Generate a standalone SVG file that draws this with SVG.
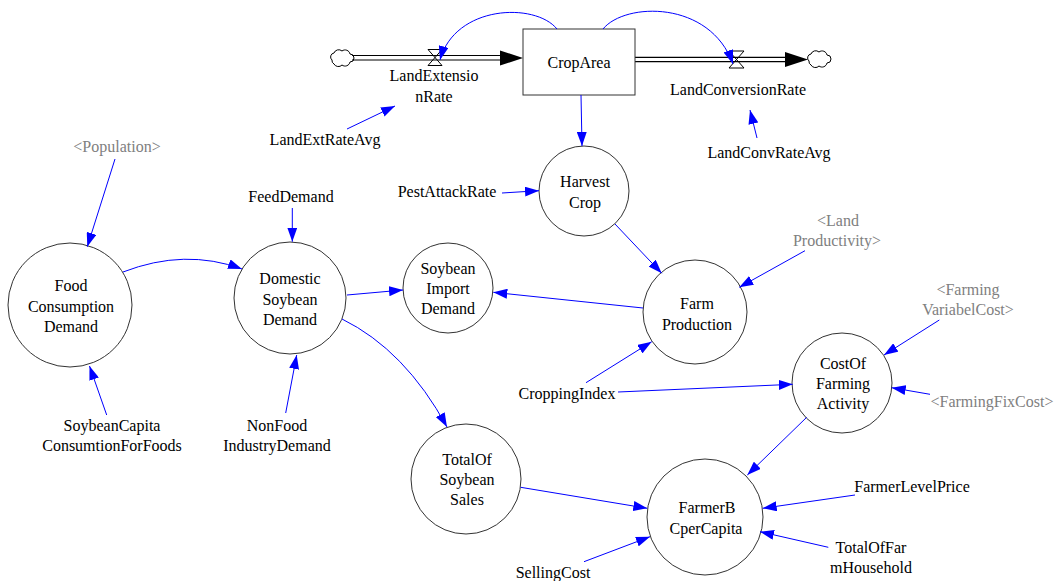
<svg xmlns="http://www.w3.org/2000/svg" width="1057" height="581" viewBox="0 0 1057 581">
<style>
text{font-family:"Liberation Serif","Times New Roman",serif;font-size:16px;fill:#000;text-anchor:middle}
text.sh{fill:#808080}
.node{fill:#fff;stroke:#333;stroke-width:1}
.link{fill:none;stroke:#0000ff;stroke-width:1;marker-end:url(#ah)}
.pipe{stroke:#000;stroke-width:1.2;fill:none}
.valve{fill:none;stroke:#000;stroke-width:1}
.cloud{fill:#fff;stroke:#000;stroke-width:1}
</style>
<defs>
<marker id="ah" markerWidth="14" markerHeight="10" refX="14" refY="5" orient="auto" markerUnits="userSpaceOnUse"><path d="M0,0 L14,5 L0,10 z" fill="#0000ff"/></marker>
</defs>
<rect width="1057" height="581" fill="#fff"/>
<g id="flows">
<path class="cloud" d="M332,60 a4,4 0 0,1 2,-7 a5,5 0 0,1 8,-2 a5,5 0 0,1 8,3 a4,4 0 0,1 0,8 a5,5 0 0,1 -8,3 a5,5 0 0,1 -8,-1 a4,4 0 0,1 -2,-4z"/>
<line class="pipe" x1="352" y1="55.5" x2="502" y2="55.5"/>
<line class="pipe" x1="352" y1="60" x2="502" y2="60"/>
<polygon points="500,50.5 523,58 500,65.5" fill="#000"/>
<path class="cloud" d="M809,61 a4,4 0 0,1 2,-7 a5,5 0 0,1 8,-2 a5,5 0 0,1 8,3 a4,4 0 0,1 0,8 a5,5 0 0,1 -8,3 a5,5 0 0,1 -8,-1 a4,4 0 0,1 -2,-4z"/>
<line class="pipe" x1="635" y1="57.3" x2="787" y2="57.3"/>
<line class="pipe" x1="635" y1="61.7" x2="787" y2="61.7"/>
<polygon points="785,52 808,59.5 785,67" fill="#000"/>
</g>
<g id="CropArea">
<rect class="node" x="523" y="29" width="112" height="66"/>
<text x="579" y="68">CropArea</text>
</g>
<g id="LandExtensionRate">
<path class="valve" d="M428,49.5 L442,49.5 L428,65.5 L442,65.5 Z"/>
<text x="434" y="81">LandExtensio</text>
<text x="434" y="102">nRate</text>
</g>
<g id="LandConversionRate">
<path class="valve" d="M729,51 L744,51 L729,68 L744,68 Z"/>
<text x="738" y="95">LandConversionRate</text>
</g>
<g id="LandExtRateAvg"><text x="325" y="145">LandExtRateAvg</text></g>
<g id="LandConvRateAvg"><text x="769" y="158">LandConvRateAvg</text></g>
<g id="HarvestCrop">
<circle class="node" cx="584" cy="191" r="45"/>
<text x="585" y="187">Harvest</text>
<text x="585" y="208">Crop</text>
</g>
<g id="PestAttackRate"><text x="447" y="197">PestAttackRate</text></g>
<g id="FoodConsumptionDemand">
<circle class="node" cx="70" cy="305" r="62"/>
<text x="71" y="291">Food</text>
<text x="71" y="312">Consumption</text>
<text x="71" y="332">Demand</text>
</g>
<g id="Population"><text class="sh" x="117" y="152">&lt;Population&gt;</text></g>
<g id="DomesticSoybeanDemand">
<circle class="node" cx="290" cy="298" r="56"/>
<text x="290" y="284">Domestic</text>
<text x="290" y="305">Soybean</text>
<text x="290" y="325">Demand</text>
</g>
<g id="FeedDemand"><text x="291" y="202">FeedDemand</text></g>
<g id="SoybeanImportDemand">
<circle class="node" cx="448" cy="288" r="45"/>
<text x="448" y="274">Soybean</text>
<text x="448" y="294">Import</text>
<text x="448" y="314">Demand</text>
</g>
<g id="FarmProduction">
<circle class="node" cx="695" cy="312" r="52"/>
<text x="697" y="309">Farm</text>
<text x="697" y="330">Production</text>
</g>
<g id="LandProductivity">
<text class="sh" x="838" y="226">&lt;Land</text>
<text class="sh" x="837" y="246">Productivity&gt;</text>
</g>
<g id="CostOfFarmingActivity">
<circle class="node" cx="842" cy="383" r="50"/>
<text x="843" y="369">CostOf</text>
<text x="843" y="389">Farming</text>
<text x="843" y="409">Activity</text>
</g>
<g id="FarmingVariabelCost">
<text class="sh" x="968" y="295">&lt;Farming</text>
<text class="sh" x="968" y="315">VariabelCost&gt;</text>
</g>
<g id="FarmingFixCost"><text class="sh" x="992" y="407">&lt;FarmingFixCost&gt;</text></g>
<g id="CroppingIndex"><text x="567" y="399">CroppingIndex</text></g>
<g id="SoybeanCapitaConsumtionForFoods">
<text x="112" y="431">SoybeanCapita</text>
<text x="112" y="451">ConsumtionForFoods</text>
</g>
<g id="NonFoodIndustryDemand">
<text x="277" y="431">NonFood</text>
<text x="277" y="451">IndustryDemand</text>
</g>
<g id="TotalOfSoybeanSales">
<circle class="node" cx="466" cy="479" r="55"/>
<text x="467" y="465">TotalOf</text>
<text x="467" y="485">Soybean</text>
<text x="467" y="505">Sales</text>
</g>
<g id="FarmerBCperCapita">
<circle class="node" cx="705" cy="517" r="58"/>
<text x="707" y="513">FarmerB</text>
<text x="706" y="534">CperCapita</text>
</g>
<g id="FarmerLevelPrice"><text x="912" y="492">FarmerLevelPrice</text></g>
<g id="TotalOfFarmHousehold">
<text x="871" y="553">TotalOfFar</text>
<text x="871" y="573">mHousehold</text>
</g>
<g id="SellingCost"><text x="553" y="578">SellingCost</text></g>
<g id="connectors">
<path class="link" d="M557,29 C535,2 455,5 440,60"/>
<path class="link" d="M603,29 C625,2 710,0 733,64"/>
<path class="link" d="M347,129 L395,106"/>
<path class="link" d="M757,138 L750,110"/>
<path class="link" d="M581,95 L582,146"/>
<path class="link" d="M502,193 L539,190.7"/>
<path class="link" d="M615,224 L661.7,273.3"/>
<path class="link" d="M643,308 L493.3,292.3"/>
<path class="link" d="M347,295 L403,290"/>
<path class="link" d="M586,382.7 L651.7,341.7"/>
<path class="link" d="M618,392 L792.7,384.3"/>
<path class="link" d="M805,250.7 L739.3,287.3"/>
<path class="link" d="M939.3,320 L884,355"/>
<path class="link" d="M930,394.3 L891.7,387.7"/>
<path class="link" d="M806.7,417.3 L747.3,475"/>
<path class="link" d="M855,495 L762.7,508.3"/>
<path class="link" d="M828.3,547.3 L760,531.7"/>
<path class="link" d="M584,561.7 L650,536.7"/>
<path class="link" d="M520.7,487.3 L647.3,508.3"/>
<path class="link" d="M342,319 Q405,350 447,427"/>
<path class="link" d="M123,272 Q185,248 242,269"/>
<path class="link" d="M115,159 L87.3,246.7"/>
<path class="link" d="M292.3,208 L292.3,241.7"/>
<path class="link" d="M106.7,415 L89.5,366"/>
<path class="link" d="M285.7,413 L296.7,355"/>
</g>
</svg>
